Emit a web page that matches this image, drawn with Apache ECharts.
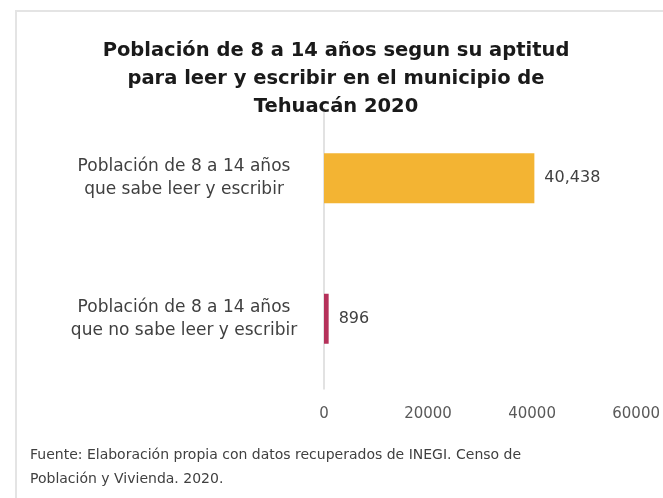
<!DOCTYPE html>
<html>
<head>
<meta charset="utf-8">
<script src="https://cdn.jsdelivr.net/npm/echarts@6/dist/echarts.min.js"></script>
<style>
  html, body { margin: 0; padding: 0; background: #fff; }
  #frame { position: absolute; left: 15px; top: 10px; width: 660px; height: 500px;
           border-top: 2px solid #e4e4e4; border-left: 2px solid #e4e4e4; }
  #chart { position: absolute; left: 0; top: 0; width: 663px; height: 498px; }
</style>
</head>
<body>
<div id="frame"></div>
<div id="chart"></div>
<script>
const categories = [
  'Población de 8 a 14 años\nque sabe leer y escribir',
  'Población de 8 a 14 años\nque no sabe leer y escribir'
];
const values = [40438, 896];
const barColors = ['#F3B433', '#B5315A'];
const xTicks = { min: 0, max: 60000, interval: 20000 };

const titleText = 'Población de 8 a 14 años segun su aptitud\npara leer y escribir en el municipio de\nTehuacán 2020';
const sourceText = 'Fuente: Elaboración propia con datos recuperados de INEGI. Censo de\nPoblación y Vivienda. 2020.';

const font = 'DejaVu Sans';

let myChart = echarts.init(document.getElementById('chart'), null, { renderer: 'canvas' });

let option = {
  backgroundColor: 'transparent',
  animation: false,
  textStyle: { fontFamily: font },
  title: {
    text: titleText,
    left: 331,
    textAlign: 'center',
    top: 32,
    textStyle: {
      fontFamily: font,
      fontSize: 19.5,
      fontWeight: 'bold',
      color: '#1a1a1a',
      lineHeight: 28
    }
  },
  graphic: [{
    type: 'text',
    left: 30,
    top: 443,
    style: {
      text: sourceText,
      fontFamily: font,
      fontSize: 14,
      lineHeight: 24,
      fill: '#404040'
    }
  }],
  grid: {
    left: 324,
    right: 22,
    top: 108,
    bottom: 109,
    containLabel: false
  },
  xAxis: {
    type: 'value',
    min: xTicks.min,
    max: xTicks.max,
    interval: xTicks.interval,
    axisLine: { show: false },
    axisTick: { show: false },
    splitLine: { show: false },
    axisLabel: {
      color: '#595959',
      fontSize: 15,
      margin: 18,
      formatter: v => String(v)
    }
  },
  yAxis: {
    type: 'category',
    inverse: true,
    data: categories,
    axisLine: { show: true, lineStyle: { color: '#d9d9d9', width: 1.5 } },
    axisTick: { show: false },
    axisLabel: {
      color: '#404040',
      fontSize: 17,
      lineHeight: 23,
      align: 'center',
      margin: 140
    }
  },
  series: [{
    type: 'bar',
    barWidth: 50,
    data: values.map((v, i) => ({ value: v, itemStyle: { color: barColors[i] } })),
    label: {
      show: true,
      position: 'right',
      distance: 10,
      color: '#404040',
      fontSize: 16,
      formatter: p => p.value.toLocaleString('en-US')
    }
  }]
};

myChart.setOption(option);
</script>
</body>
</html>
